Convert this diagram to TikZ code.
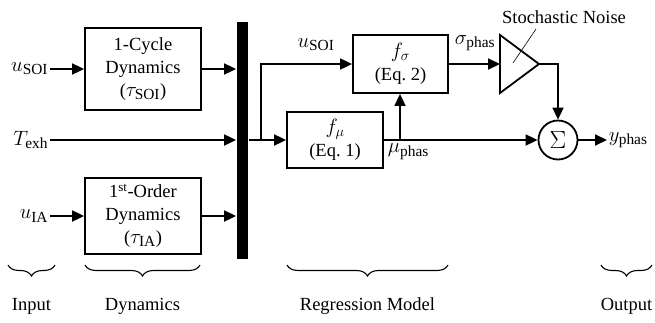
\documentclass[tikz,border=0pt]{standalone}
\usepackage{fontspec}
\setmainfont{Liberation Serif}
\usetikzlibrary{arrows.meta,decorations.pathreplacing,calc}
\newcommand\mbig[1]{{\fontsize{22}{24}\selectfont$#1$}}
\begin{document}
\begin{tikzpicture}[x=1pt,y=-1pt,
  font=\fontsize{18.5}{23}\selectfont,
  line width=1.8pt,
  >={Triangle[length=12pt,width=11pt]},
  blk/.style={draw, inner sep=0pt, align=center},
  lbl/.style={inner sep=1pt},
  brc/.style={decorate, decoration={brace, mirror, amplitude=11pt}, line width=1.1pt},
  thinline/.style={line width=0.6pt}]
\useasboundingbox (0,0) rectangle (655,322);

% dynamics blocks
\node[blk, minimum width=116pt, minimum height=82pt] (cyc) at (143,69)
  {1-Cycle\\Dynamics\\(\mbig{\tau_{\mathrm{SOI}}})};
\node[blk, minimum width=116pt, minimum height=76pt] (ord) at (143,216)
  {1\textsuperscript{st}-Order\\Dynamics\\(\mbig{\tau_{\mathrm{IA}}})};

% inputs
\node[lbl, anchor=east] (usoi) at (50,69) {\mbig{u_{\mathrm{SOI}}}};
\node[lbl, anchor=east] (texh) at (50,140) {\mbig{T_{\mathrm{exh}}}};
\node[lbl, anchor=east] (uia)  at (50,216) {\mbig{u_{\mathrm{IA}}}};

% mux bar
\node[fill, inner sep=0pt, minimum width=11pt, minimum height=237pt] (bar) at (242.5,140.5) {};

\draw[->] (usoi) -- (cyc);
\draw[->] (uia) -- (ord);
\draw[->] (cyc.east) -- (cyc.east -| bar.west);
\draw[->] (ord.east) -- (ord.east -| bar.west);
\draw[->] (texh.east) -- (texh.east -| bar.west);

% regression model
\node[blk, minimum width=95pt, minimum height=58pt] (fsig) at (400.5,64)
  {\mbig{f_{\sigma}}\\(Eq.~2)};
\node[blk, minimum width=96pt, minimum height=56pt] (fmu) at (335,140)
  {\mbig{f_{\mu}}\\(Eq.~1)};

\coordinate (split) at (261,140);
\coordinate (tap) at (400,140);
\draw (bar.east |- split) -- (split);
\draw[->] (split) -- (fmu.west);
\draw[->] (split) |- (fsig.west);
\node[lbl] (usoi2) at (316,45) {\mbig{u_{\mathrm{SOI}}}};
\node[lbl, anchor=north west] (mu) at (386,142) {\mbig{\mu_{\mathrm{phas}}}};

% noise gain
\coordinate (ampin) at (500,64);
\coordinate (ampout) at (539,64);
\draw (500,35) -- (ampout) -- (500,93) -- cycle;
\node[lbl] (noise) at (564,17) {Stochastic Noise};
\draw[thinline] (513,63) -- (536,29);

\draw[->] (fsig.east) -- (ampin);
\node[lbl] (sig) at (475,43) {\mbig{\sigma_{\mathrm{phas}}}};

% summation
\node[draw, circle, minimum size=39pt, inner sep=0pt] (sum) at (558,140) {{\fontsize{24}{24}\selectfont$\Sigma$}};
\draw[->] (tap) -- (tap |- fsig.south);
\draw[->] (fmu.east) -- (sum.west);
\draw[->] (ampout) -| (sum.north);
\node[lbl, anchor=west] (y) at (607,140) {\mbig{y_{\mathrm{phas}}}};
\draw[->] (sum.east) -- (y.west);

% group braces
\draw[brc] (8,265) -- (55,265);
\draw[brc] (85,265) -- (200,265);
\draw[brc] (287,265) -- (448,265);
\draw[brc] (601,265) -- (652,265);
\node[lbl] (gin) at (31.5,306) {Input};
\node[lbl] (gdyn) at (142.5,306) {Dynamics};
\node[lbl] (greg) at (367.5,306) {Regression Model};
\node[lbl] (gout) at (626.5,306) {Output};
\end{tikzpicture}
\end{document}
